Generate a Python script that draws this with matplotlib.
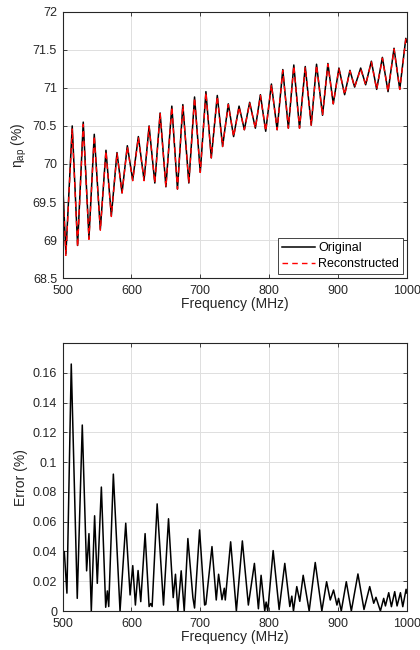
"""Aperture efficiency: original vs reconstructed, and the error between them"""

import matplotlib
matplotlib.use("Agg")
import matplotlib.pyplot as plt

# ---- data (extrema of the ripple) ----
top_freq = [500, 504.8, 514, 521.8, 530, 538.3, 546, 554.8, 563, 570.8,
            579, 586.3, 594, 601.8, 610, 618.3, 625.6, 633.9, 641.6, 650,
            658.6, 666.8, 674.6, 683.3, 691.6, 699.9, 708.1, 715.9, 724.6, 732.3,
            740.6, 748.3, 756.2, 763.9, 771.6, 779.9, 787.2, 794.9, 803.2, 811.5,
            819.7, 827.8, 835.7, 844, 852.3, 861, 868.7, 877.4, 885.2, 893,
            901.2, 909.5, 917.2, 924, 932.8, 940, 948.3, 956, 964.3, 972.5,
            981.2, 989.5, 998.3, 1000]
eta_original = [69.79, 68.82, 70.5, 68.93, 70.55, 69.03, 70.39, 69.14, 70.18, 69.32,
                70.15, 69.62, 70.24, 69.79, 70.36, 69.79, 70.5, 69.75, 70.67, 69.70,
                70.76, 69.67, 70.78, 69.75, 70.88, 69.89, 70.95, 70.08, 70.90, 70.23,
                70.79, 70.36, 70.76, 70.45, 70.81, 70.47, 70.91, 70.43, 71.05, 70.45,
                71.24, 70.47, 71.30, 70.47, 71.28, 70.51, 71.31, 70.64, 71.32, 70.79,
                71.26, 70.91, 71.23, 71.01, 71.26, 71.04, 71.35, 70.98, 71.40, 70.95,
                71.52, 70.98, 71.65, 71.60]
eta_reconstructed = [69.76, 68.80, 70.46, 68.91, 70.52, 69.01, 70.37, 69.13, 70.17, 69.31,
                     70.14, 69.62, 70.23, 69.78, 70.35, 69.78, 70.49, 69.75, 70.66, 69.70,
                     70.75, 69.67, 70.77, 69.75, 70.87, 69.89, 70.94, 70.08, 70.89, 70.23,
                     70.78, 70.36, 70.75, 70.45, 70.80, 70.47, 70.90, 70.43, 71.04, 70.45,
                     71.23, 70.47, 71.29, 70.47, 71.27, 70.51, 71.30, 70.64, 71.31, 70.79,
                     71.25, 70.91, 71.22, 71.01, 71.25, 71.04, 71.34, 70.98, 71.39, 70.95,
                     71.51, 70.98, 71.64, 71.60]

err_freq = [500, 502.5, 506.3, 512.6, 521.3, 528.6, 534.9, 538.3, 541.7, 546.5,
            550.4, 556.3, 562.6, 565, 567, 573.7, 583.4, 591.7, 598, 601.9,
            605.7, 609.6, 613.5, 619.8, 625.6, 628, 630, 637.3, 646.5, 653.8,
            660.6, 663.9, 667.3, 672.2, 676.6, 681.9, 689.2, 691.6, 698.9, 706.2,
            708, 716.9, 723.1, 726.5, 731.4, 734.8, 736.2, 744, 752.3, 761,
            769.7, 778.5, 784.3, 788.2, 793.5, 795.5, 797.9, 805.7, 814.4, 822.6,
            829.9, 832.8, 835.2, 840, 844.4, 849.3, 858, 866.8, 876.4, 883.3,
            888.6, 893.4, 898.3, 900.7, 904.6, 911.9, 919.2, 928.8, 937.6, 945.9,
            951.7, 955, 961.4, 966.2, 968.7, 973.5, 977.4, 982.2, 985.6, 990.5,
            993.9, 998.7, 1000]
err_vals = [0.038, 0.040, 0.012, 0.166, 0.0085, 0.125, 0.027, 0.052, 0.0, 0.064,
            0.0186, 0.0833, 0.0025, 0.0135, 0.003, 0.092, 0.0, 0.059, 0.0108, 0.0305,
            0.004, 0.0272, 0.0063, 0.052, 0.003, 0.005, 0.003, 0.072, 0.004, 0.062,
            0.009, 0.0247, 0.0, 0.027, 0.0, 0.0487, 0.009, 0.002, 0.0545, 0.004,
            0.0045, 0.0433, 0.0074, 0.0247, 0.0076, 0.0153, 0.0074, 0.0465, 0.0, 0.0471,
            0.004, 0.032, 0.0015, 0.024, 0.0, 0.006, 0.0, 0.0406, 0.001, 0.032,
            0.003, 0.01, 0.0, 0.0164, 0.0065, 0.024, 0.0, 0.0326, 0.0, 0.0197,
            0.0074, 0.0141, 0.004, 0.0085, 0.0, 0.0197, 0.0, 0.0249, 0.001, 0.0164,
            0.0052, 0.0092, 0.0, 0.0085, 0.0034, 0.0123, 0.0029, 0.0130, 0.0034, 0.0123,
            0.0029, 0.0146, 0.012]

x_ticks = [500, 600, 700, 800, 900, 1000]
top_yticks = [68.5, 69, 69.5, 70, 70.5, 71, 71.5, 72]
top_ylabels = ["68.5", "69", "69.5", "70", "70.5", "71", "71.5", "72"]
err_yticks = [0, 0.02, 0.04, 0.06, 0.08, 0.10, 0.12, 0.14, 0.16]
err_ylabels = ["0", "0.02", "0.04", "0.06", "0.08", "0.1", "0.12", "0.14", "0.16"]

# ---- style (MATLAB-ish) ----
plt.rcParams['font.family'] = ['Liberation Sans', 'DejaVu Sans']
plt.rcParams['mathtext.fontset'] = 'custom'
plt.rcParams['mathtext.rm'] = 'Liberation Sans'
plt.rcParams['mathtext.it'] = 'Liberation Sans:italic'
AX_COL = (0.15, 0.15, 0.15)


def style_axes(ax):
	for s in ax.spines.values():
		s.set_color(AX_COL)
		s.set_linewidth(0.8)
	ax.tick_params(direction='in', top=True, right=True, length=3,
	               width=0.6, colors=AX_COL, labelsize=9, labelcolor=AX_COL)
	ax.tick_params(axis='x', pad=5)
	ax.tick_params(axis='y', pad=4)
	ax.grid(True, color='#dedede', linewidth=0.7)
	ax.set_axisbelow(True)
	ax.set_xlim(500, 1000)
	ax.set_xticks(x_ticks)
	ax.set_xlabel('Frequency (MHz)', fontsize=10, color=AX_COL, labelpad=0)


fig = plt.figure(figsize=(4.2, 6.5), dpi=100)
ax1 = fig.add_axes([0.149, 0.572, 0.82, 0.410])
ax2 = fig.add_axes([0.149, 0.060, 0.82, 0.412])

# top panel
style_axes(ax1)
ax1.plot(top_freq, eta_original, color='black', lw=1.1, label='Original',
         solid_joinstyle='round')
ax1.plot(top_freq, eta_reconstructed, color='red', lw=1.0, ls=(0, (4, 3)),
         label='Reconstructed', dash_joinstyle='round')
ax1.set_ylim(68.5, 72)
ax1.set_yticks(top_yticks)
ax1.set_yticklabels(top_ylabels)
ax1.set_ylabel('η$_{\\mathrm{ap}}$ (%)', fontsize=10, color=AX_COL, labelpad=3)
leg = ax1.legend(loc='lower right', fontsize=9, fancybox=False, framealpha=1,
                 edgecolor=AX_COL, handlelength=2.6, handletextpad=0.25,
                 borderpad=0.35, labelspacing=0.3, borderaxespad=0.3)
leg.get_frame().set_linewidth(0.6)

# bottom panel
style_axes(ax2)
ax2.plot(err_freq, err_vals, color='black', lw=1.1, solid_joinstyle='round')
ax2.set_ylim(0, 0.18)
ax2.set_yticks(err_yticks)
ax2.set_yticklabels(err_ylabels)
ax2.set_ylabel('Error (%)', fontsize=10, color=AX_COL, labelpad=3)

fig.savefig('out.png', dpi=100)
plt.close(fig)
